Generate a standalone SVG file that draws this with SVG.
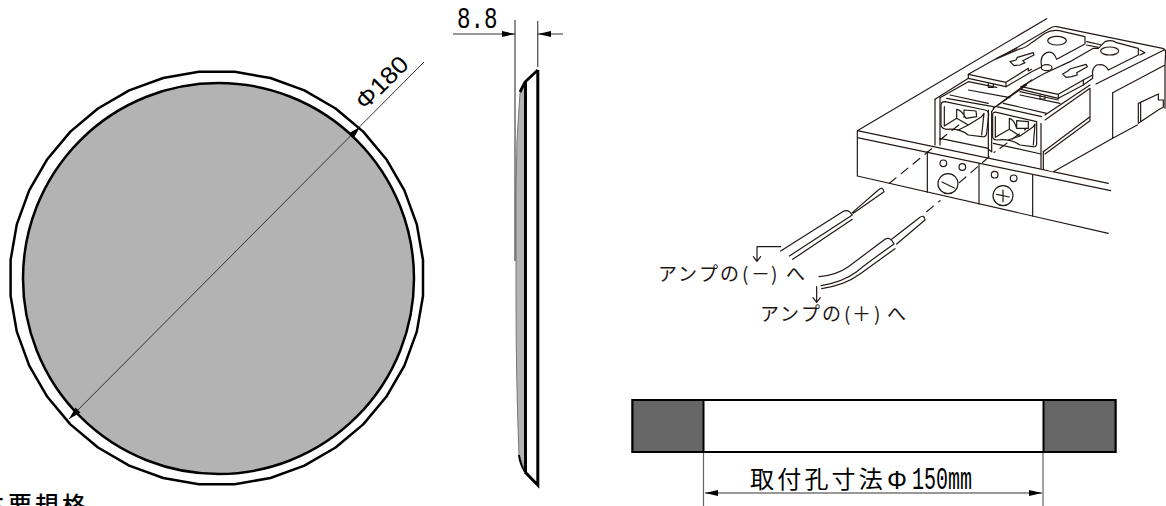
<svg xmlns="http://www.w3.org/2000/svg" width="1166" height="506" viewBox="0 0 1166 506">
<style>
.k{fill:none;stroke:#000}
.t{fill:none;stroke:#231815;stroke-width:3.6;stroke-linejoin:round;stroke-linecap:round}
.f{fill:#fff;stroke:#231815;stroke-width:3.6;stroke-linejoin:round}
.d{stroke-dasharray:26 20}
.dim{stroke:#333;stroke-width:1;fill:none}
.jp{font-family:"Noto Sans CJK JP",sans-serif;fill:#231815}
.gt{font-family:"Liberation Sans",sans-serif;fill:#000}
.mo{font-family:"Liberation Mono",monospace;fill:#000}
</style>
<defs>
<marker id="a" markerWidth="14" markerHeight="8" refX="13" refY="4" orient="auto-start-reverse" markerUnits="userSpaceOnUse"><path d="M0,1 L13,4 L0,7 Z" fill="#000"/></marker>
</defs>
<g id="front-view">
<polygon points="423,296 416.800,331.600 404.400,365.600 386.300,396.800 363.200,424.400 335.600,447.500 304.400,465.600 270.400,478 234.800,484.200 198.800,484.200 163.200,478 129.200,465.600 98,447.500 70.400,424.400 47.300,396.800 29.200,365.600 16.800,331.600 10.600,296 10.600,260 16.800,224.400 29.200,190.400 47.300,159.200 70.400,131.600 98,108.500 129.200,90.400 163.200,78 198.800,71.800 234.800,71.800 270.400,78 304.400,90.400 335.600,108.500 363.200,131.600 386.300,159.200 404.400,190.400 416.800,224.400 423,260" fill="#fff" stroke="#000" stroke-width="2.500" stroke-linejoin="round"/>
<circle cx="218.500" cy="278.500" r="195.500" fill="#b3b3b3" stroke="#000" stroke-width="2.500"/>
</g>
<g id="side-view">
<path d="M520,93 Q516,140 516,190 L516,300 Q516,380 519,455 L525,470 L525,82 Z" fill="#b3b3b3" stroke="#777" stroke-width="1"/>
<path d="M519,455 Q520,464 525,472" class="k" stroke-width="2"/>
<path d="M537.800,70 L525,82 L520,92" class="k" stroke-width="2.800"/>
<path d="M537.800,70 V485 L525,472" class="k" stroke-width="3"/>
<line x1="525.500" y1="82" x2="525.500" y2="472" class="k" stroke-width="3"/>
</g>
<g id="hole-section">
<rect x="632.500" y="400" width="483" height="52" fill="#fff" stroke="#000" stroke-width="2"/>
<rect x="632.500" y="400" width="71" height="52" fill="#666" stroke="#000" stroke-width="2"/>
<rect x="1043.500" y="400" width="72" height="52" fill="#666" stroke="#000" stroke-width="2"/>
</g>
<g id="connectors">
<path d="M424,62 L69,419" class="dim"/>
<path d="M360,127 L348.500,133.500 L353.500,138.500 Z M69,419 L80.500,412.500 L75.500,407.500 Z" fill="#000"/>
<path d="M515,20 V261 M537.700,21 V67" stroke="#555" stroke-width="1.300" fill="none"/>
<path d="M453,34 H515" class="dim" marker-end="url(#a)"/>
<path d="M563,34 H538" class="dim" marker-end="url(#a)"/>
<path d="M703.500,453 V506 M1043,453 V506" stroke="#666" stroke-width="1.200" fill="none"/>
<path d="M705,493 H1042" class="dim" marker-start="url(#a)" marker-end="url(#a)"/>
</g>
<g id="labels">
<text class="gt" font-size="24" transform="translate(365,111) rotate(-45)" textLength="64" lengthAdjust="spacingAndGlyphs">Φ180</text>
<text class="mo" font-size="30" transform="translate(457,28) scale(.75,1)">8.8</text>
<text class="jp" style="fill:#000" font-size="24" x="750" y="488" letter-spacing="3.200">取付孔寸法</text>
<text class="gt" font-size="25" x="887" y="489" textLength="20" lengthAdjust="spacingAndGlyphs">Φ</text>
<text class="mo" font-size="31" transform="translate(912,489) scale(.645,1)">150mm</text>
<text class="jp" style="fill:#000;font-weight:500" font-size="24" x="-19" y="514" letter-spacing="3">主要規格</text>
<text class="jp" font-size="19" x="658 678 699 720 742 751 771 786" y="281">アンプの(－)へ</text>
<text class="jp" font-size="19" x="760 780 801 822 844 852 874 887" y="321">アンプの(＋)へ</text>
</g>
<g id="terminal" transform="translate(840,0) scale(.33333)">
<path class="t" d="M620,56 L52,392 V528 L805,700 M52,392 L805,550 M52,413 L812,572"/>
<path class="t" d="M262,455 V577 M417,490 V612 M578,525 V648"/>
<circle class="t" cx="310" cy="490" r="10"/><circle class="t" cx="367" cy="501" r="10"/>
<circle class="t" cx="464" cy="524" r="10"/><circle class="t" cx="521" cy="535" r="10"/>
<circle class="t" cx="324" cy="551" r="30"/><circle class="t" cx="489" cy="587" r="30"/>
<path class="t" d="M306,546 L343,564 M470,583 L508,591 M489,570 V605"/>
<path class="f" style="stroke:none" d="M285,298 L640,82 L975,150 L975,340 L820,415 L640,515 L605,505 L285,435 Z"/>
<path class="t" d="M285,298 V435 M300,293 V435 M445,330 V470 M455,335 V455 M603,370 V505 M610,455 V508"/>
<path class="t" d="M285,298 L390,232 M640,515 L818,415 M470,178 L630,85 Q640,78 650,80 L968,145 Q977,148 977,156 L975,195 M768,252 L972,150 M818,278 L975,195 M818,278 V415 M818,415 L892,375 M975,195 V325"/>
<path class="t" d="M895,370 V310 L955,282 V300 M902,365 V310 M955,300 H970 V322 L958,328 M958,328 L895,370"/>
<path class="t" d="M610,455 L750,350 V265 M615,462 L750,362 V350 M615,345 L750,255 M615,360 L750,265 M740,125 L785,135 M740,135 L775,142 M900,150 L915,158 M900,165 L915,158"/>
<ellipse class="f" cx="620" cy="203" rx="16" ry="9"/>
<path class="f" d="M385,223 L465,178 L535,148 Q555,145 575,128 L615,100 Q640,85 670,95 L735,110 V132 L650,178 Q640,150 620,158 Q598,168 605,200 L575,215 L498,260 L385,235 Z"/>
<path class="t" d="M385,223 L498,247 V260 M498,247 L565,205 V213 L575,208 M470,175 L530,145"/>
<ellipse class="t" cx="651" cy="122" rx="28" ry="13"/>
<path class="t" d="M510,185 L528,180 L532,172 L580,158 L582,165 L548,182 L555,188 L540,195 L522,197 Z"/>
<path class="f" d="M543,260 L610,222 L690,185 L760,145 H775 L795,125 Q815,118 830,128 L895,145 V165 L805,210 Q795,190 770,195 Q755,205 758,225 V235 L730,255 L655,295 L543,268 Z"/>
<path class="t" d="M543,260 L655,283 V295 M655,283 L730,240 V255 M730,240 L758,225"/>
<ellipse class="t" cx="809" cy="153" rx="27" ry="12"/>
<path class="t" d="M668,222 L685,212 L690,207 L738,193 L742,200 L710,218 L712,225 L695,230 L678,232 Z"/>
<path class="t" d="M445,250 V262 H460 V253 M600,285 V297 H615 V290"/>
<path class="t" d="M300,293 L385,245 M330,285 L445,310 M320,295 L460,320 M385,245 L470,262 M385,270 L510,293 M460,325 L575,240 M475,315 L560,255 M540,275 L655,300 M470,320 L605,350 M490,310 L620,340 M540,285 L660,310"/>
<path class="t" d="M303,315 Q303,305 315,305 L435,330 Q447,333 446,345 L440,400 Q438,412 425,410 L385,405 Q360,385 320,388 Q303,385 303,375 Z"/>
<path class="t" d="M313,320 V378 L350,355 V328 M350,355 L385,375 L355,390 M385,375 L425,350 L432,340 L425,405 M350,328 Q365,330 378,355 L410,350 L408,333 L372,330 V352"/>
<path class="t" d="M458,345 Q457,335 470,337 L590,365 V430 Q590,442 578,440 L540,435 Q510,415 470,420 Q458,418 458,410 Z"/>
<path class="t" d="M466,350 V412 L508,388 V355 M508,388 L540,408 L505,420 M540,408 L580,380 L585,372 L580,435 M508,355 Q522,358 530,385 L565,385 L565,365 L530,362 V385"/>
<path class="t" d="M455,335 L465,320 M300,415 L445,445 M460,430 L603,462 M445,448 L455,455"/>
<path class="t d" d="M148,550 L280,442 M260,635 L300,602 M358,548 L465,455 M300,420 L360,372 M480,445 L560,385"/>
</g>
<g id="wires" transform="translate(640,170) scale(.33333)">
<path class="t" d="M422,243 L608,125 Q625,115 637,135 L448,258 M458,268 L637,148 M637,128 L715,60 Q728,48 732,65 L640,130"/>
<path class="t" d="M537,320 Q590,315 625,290 L735,208 Q750,198 762,222 Q680,280 650,305 Q610,335 543,347 M545,356 Q615,345 660,312 L765,236"/>
<path class="t" d="M755,208 L838,143 Q852,132 855,150 L770,222"/>
<path class="t" d="M422,230 H351 V272 M340,260 L351,274 L362,260 M530,350 V395 M519,383 L530,397 L541,383"/>
</g>
</svg>
